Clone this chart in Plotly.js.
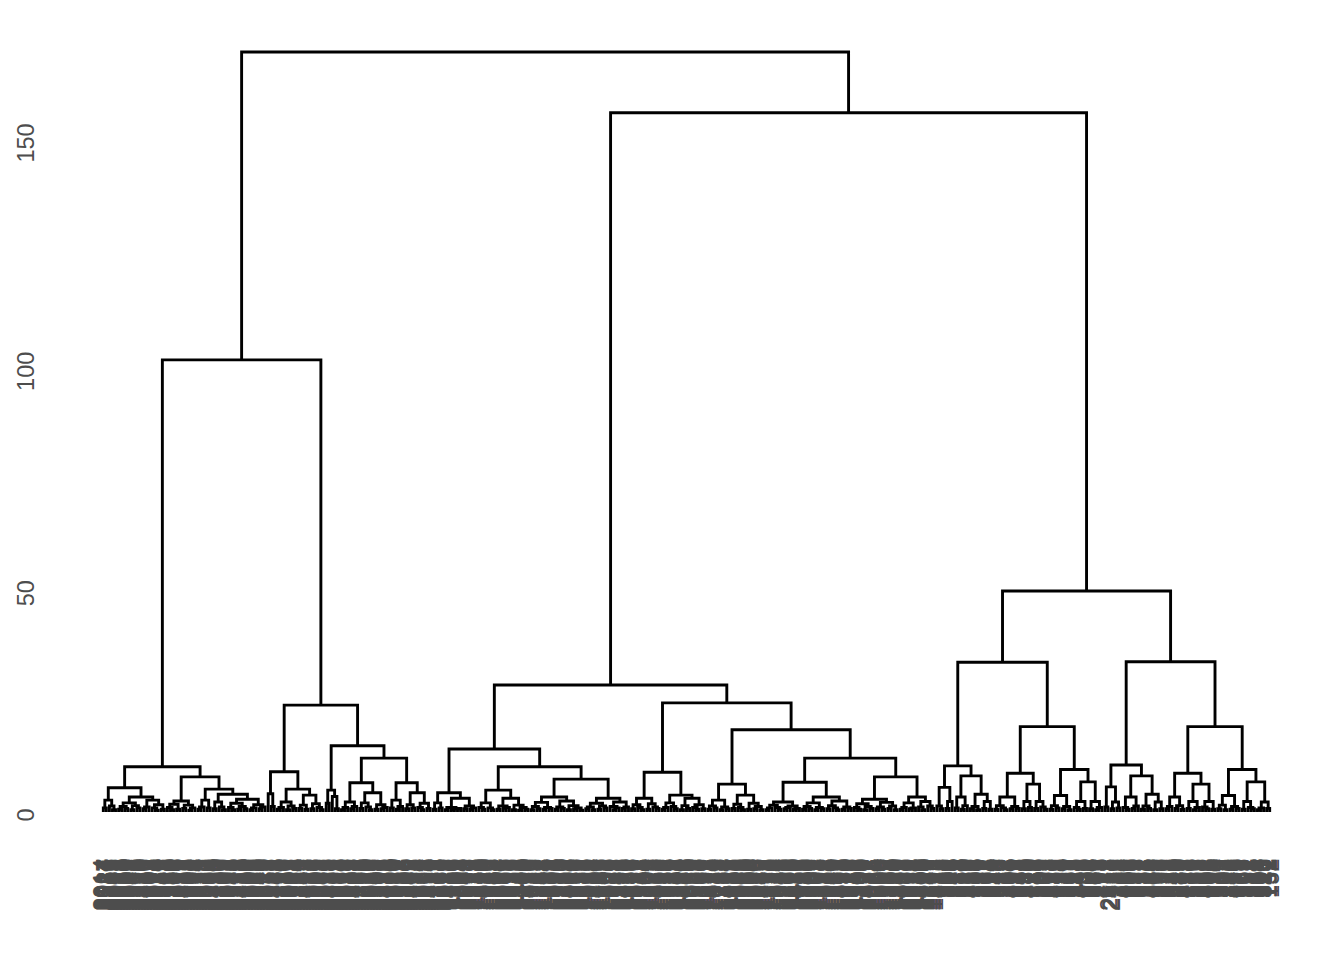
<!DOCTYPE html>
<html>
<head>
<meta charset="utf-8">
<script src="https://cdn.plot.ly/plotly-3.0.1.min.js"></script>
<style>html,body{margin:0;padding:0;background:#fff}#chart{width:1344px;height:960px}</style>
</head>
<body>
<div id="chart"></div>
<script>
// ---- DATA: dendrogram structure (Newick-like, "o" = leaf, number after ")" = merge height) ----
const treeLL = `(
 ( ((o,o)0.9,(o,(o,o)0.5)1.3)2.6,
   ( (((o,o)0.6,(o,o)0.8)1.2,((o,o)0.5,(o,o)0.9)1.4)2.0,
     (((o,o)0.7,o)1.1,((o,(o,o)0.4)0.9,(o,o)0.6)1.6)2.6 )3.3 )5.3,
 ( ( ((o,(o,o)0.5)1.0,(o,o)0.6)1.7,
     ((o,o)0.8,((o,o)0.4,o)0.9)1.5 )2.4,
   ( (((o,o)0.6,o)1.1,(o,o)0.9)2.6,
     ( ((o,o)0.7,(o,(o,o)0.5)1.1)2.2,
       ( ((o,(o,o)0.5)1.0,((o,o)0.6,(o,o)0.7)1.2)1.9,
         (((o,o)0.5,o)0.9,((o,o)0.7,o)1.1)1.6 )2.8 )3.9 )5.0 )7.7 )9.9`;

const treeLR = `(
 ( (o,(o,o)1.2)4.0,
   ( (((o,o)0.6,o)1.0,((o,o)0.5,(o,o)0.8)1.3)2.2,
     (((o,o)0.8,(o,o)0.6)1.5,((o,o)0.7,(o,(o,o)0.5)1.0)1.8)3.7 )5.0 )8.8,
 ( ((o,o)1.9,(o,(o,o)0.7)3.4)4.8,
   ( ( (((o,o)0.5,o)1.0,((o,o)0.7,o)1.2)2.2,
       (((o,o)0.8,(o,(o,o)0.5)1.1)2.0,((o,o)0.6,((o,o)0.7,o)1.0)1.6)4.2 )6.4,
     ( ((o,o)0.9,((o,o)0.6,o)1.2)2.6,
       (((o,o)0.7,(o,o)0.9)1.6,((o,(o,o)0.5)1.0,(o,o)0.8)1.9)4.2 )6.4 )11.8 )14.5 )23.4`;

const treeRL = `(
 ( ( ((o,o)0.6,(o,o)0.9)2.0,
     (((o,o)0.5,((o,o)0.4,(o,o)0.8)0.7)1.0,((o,o)0.7,((o,o)0.6,o)0.9)1.3)3.0 )4.2,
   ( ( ((o,(o,o)0.6)1.0,(o,(o,o)0.5)0.9)2.0,
       (((o,o)0.6,((o,o)0.8,o)1.0)1.3,((o,o)0.5,((o,o)0.4,(o,o)0.6)1.0)1.5)3.0 )4.8,
     ( ( (((o,o)0.5,(o,o)0.7)1.2,((o,o)0.6,(o,o)0.8)1.0)2.1,
         (((o,o)0.6,(o,o)0.8)1.1,((o,o)0.5,((o,o)0.7,(o,o)0.4)0.9)1.4)2.4 )3.3,
       ( (((o,o)0.7,(o,o)0.5)1.1,((o,o)0.6,(o,o)0.9)1.3)1.9,
         ((o,((o,o)0.5,o)0.9)1.2,((o,o)0.8,o)1.1)2.2 )3.0 )7.2 )9.9 )13.8,
 ( ( (((o,o)0.7,(o,(o,o)0.5)1.0)1.6,((o,o)0.6,(o,(o,o)0.8)1.1)1.8)3.0,
     ( (((o,o)0.6,o)1.0,(o,(o,o)0.7)1.2)2.0,
       (((o,o)0.5,(o,o)0.8)1.4,((o,(o,o)0.6)1.0,(o,o)0.7)1.6)3.0 )3.7 )8.7,
   ( ( (((o,o)0.6,(o,o)0.9)1.3,((o,o)0.5,(o,o)0.7)1.1)2.6,
       (((o,o)0.8,(o,(o,o)0.5)1.0)1.7,((o,o)0.6,((o,o)0.7,(o,o)0.5)1.2)1.9)3.7 )6.1,
     ( ( ((((o,o)0.5,o)0.9,(o,(o,o)0.6)1.0)1.5,(((o,o)0.7,o)1.0,((o,o)0.6,o)0.8)1.3)2.2,
         ( (((o,o)0.6,(o,o)0.8)1.2,((o,o)0.5,(o,o)0.7)1.0)2.0,
           (((o,o)0.7,(o,(o,o)0.5)0.9)1.4,((o,o)0.6,(o,o)0.8)1.1)2.4 )3.3 )6.5,
       ( ( ((o,(o,o)0.6)1.0,((o,o)0.5,(o,o)0.8)1.2)1.8,
           (((o,o)0.7,(o,o)0.6)1.1,((o,o)0.8,(o,o)0.5)1.3)2.1 )2.8,
         ( (((o,o)0.6,o)1.0,((o,o)0.7,o)0.9)2.0,
           ((o,(o,o)0.5)1.1,(o,(o,o)0.8)1.3)2.3 )3.3 )7.7 )11.8 )18.0 )23.9 )27.8`;

const treeRR = `(
 ( ( ((o,(o,o)0.7)1.3,((o,o)0.8,o)2.3)5.4,
     ( ((o,o)0.9,((o,o)0.6,o)1.4)3.3,
       (((o,o)0.7,(o,o)0.5)1.2,((o,o)0.8,(o,o)0.6)2.3)3.9 )7.9 )10.1,
   ( ( (((o,o)0.6,(o,(o,o)0.5)0.9)1.4,((o,o)0.7,(o,o)0.8)1.2)3.3,
       ( ((o,o)0.7,(o,o)1.0)2.3,
         ((o,o)0.8,(o,(o,o)0.6)1.1)2.3 )6.1 )8.5,
     ( (((o,o)0.6,(o,o)0.9)1.4,((o,o)0.7,(o,o)0.5)1.2)3.6,
       ( ((o,(o,o)0.6)1.0,(o,o)0.8)2.3,
         ((o,o)0.7,((o,o)0.5,o)1.0)2.3 )6.6 )9.3 )18.7 )32.8,
 ( ( ((o,o)1.1,((o,o)0.7,(o,o)0.9)2.2)5.5,
     ( ((o,(o,o)0.6)1.0,((o,o)0.8,o)1.3)3.3,
       (((o,o)0.6,(o,o)0.8)1.3,((o,o)0.5,(o,o)0.7)2.2)3.9 )7.9 )10.3,
   ( ( (((o,o)0.7,o)1.2,((o,o)0.8,(o,o)0.6)1.4)3.3,
       ( ((o,o)0.8,((o,o)0.5,o)1.0)2.3,
         ((o,(o,o)0.7)1.1,(o,o)0.6)2.3 )6.1 )8.5,
     ( (((o,o)0.7,(o,o)0.5)1.5,((o,o)0.6,(o,o)0.8)1.2)3.6,
       ( ((o,o)0.6,(o,(o,o)0.7)1.0)2.3,
         (((o,o)0.5,o)0.9,(o,o)0.8)2.2 )6.6 )9.3 )18.7 )32.9 )48.4`;

// top-level merge heights: left main branch, right main branch, root
const topMergeHeights = [99.0, 153.1, 166.4];

// leaf labels (x tick labels), in leaf order left to right
const leafLabelsLeft = [
 2014,2387,2156,2743,2091,2512,2668,2230,2905,2047,
 2331,2779,2120,2456,2861,2203,2598,2074,2689,2345,
 2912,2167,2540,2283,2726,2019,2471,2835,2108,2652,
 2394,2957,2238,2583,2066,2714,2429,2190,2876,2305,
 2561,2032,2648,2979,2271,2415,2130,2793,2506,2087,
 2362,2940,2213,2619,2058,2751,2448,2174,2893,2326,
 2537,2005,2682,2264,2819,2141,2493,2925,2377,2096,
 2605,2248,2767,2023,2439,2851,2159,2574,2316,2998,
 2082,2633,2401,2187,2736,2293,2520,2968,2045,2355,
 2701,2126,2482,2884,2219,2590,2061,2657,2338,2806,
 2149,2463,2935,2274,2551,2012,2694,2419,2181,2828,
 2368,2625];
const leafLabelsMiddle = [
 1023,1487,1156,1732,1309,1864,1045,1598,1271,1913,
 1138,1652,1420,1089,1776,1343,1957,1204,1531,1067,
 1819,1396,1625,1112,1748,1283,1970,1457,1036,1583,
 1227,1841,1164,1695,1372,1908,1051,1519,1260,1787,
 1434,1096,1668,1315,1952,1187,1573,1029,1724,1401,
 1886,1145,1607,1358,1079,1763,1242,1936,1478,1121,
 1639,1296,1857,1012,1548,1384,1701,1175,1925,1463,
 1058,1812,1337,1596,1219,1742,1104,1889,1446,1275,
 1660,1031,1528,1798,1367,1151,1973,1414,1086,1715,
 1252,1834,1492,1127,1681,1302,1946,1063,1567,1230,
 1804,1389,1015,1649,1472,1198,1758,1326,1914,1041,
 1535,1288,1869,1117,1620,1451,1076,1793,1348,1209,
 1961,1502,1168,1727,1381,1054,1846,1239,1589,1425,
 1093,1670,1318,1985,1141,1556,1208,1779,1437,1072,
 1634,1264,1898,1009,1512,1353,1707,1180,1942,1469,
 1038,1825,1291,1614,1133,1746,1405,1990,1247,1561,
 1527];
const leafLabelsRight = [
 412,735,268,951,503,146,829,374,617,
 290,968,451,183,706,539,822,361,94,675,
 248,913,587,132,764,406,859,323,641,195,
 982,470,217,748,556,309,891,163,628,437,
 775,254,936,519,381,697,118,842,465,233,
 579,904,346,681,795,427,172,613,2417,956,
 283,734,498,861,205,562,389,927,651,138,
 716,444,873,297,598,159,815,372,946,520,
 243,689,413,787,126,569,935,338,662,481,
 806,224,594,917,357,703,178,843,436,275,
 629,965,391,752,514,261,884,608,323,741,
 152];

const yTickValues = [0, 50, 100, 150];
const yTickLabels = ['0', '50', '100', '150'];

// ---- build tree ----
const newick = '((' + treeLL + ',' + treeLR + ')' + topMergeHeights[0] + ',(' +
               treeRL + ',' + treeRR + ')' + topMergeHeights[1] + ')' + topMergeHeights[2];

function parseTree(str) {
  const s = str.replace(/\s+/g, '');
  let i = 0;
  function node() {
    if (s[i] === '(') {
      i++;
      const kids = [node()];
      while (s[i] === ',') { i++; kids.push(node()); }
      i++; // ')'
      const j = i;
      while (i < s.length && /[0-9.]/.test(s[i])) i++;
      return { h: parseFloat(s.slice(j, i)), kids: kids };
    }
    i++; // leaf 'o'
    return { h: 0, leaf: true };
  }
  return node();
}
const root = parseTree(newick);

let leafCount = 0;
function place(n) {
  if (n.leaf) { leafCount++; n.x = leafCount; return; }
  n.kids.forEach(place);
  n.x = (n.kids[0].x + n.kids[n.kids.length - 1].x) / 2;
}
place(root);
const N = leafCount;

const segX = [], segY = [];
function segs(n) {
  if (n.leaf) return;
  const a = n.kids[0], b = n.kids[n.kids.length - 1];
  segX.push(a.x, a.x, b.x, b.x, null);
  segY.push(a.h, n.h, n.h, b.h, null);
  n.kids.forEach(segs);
}
segs(root);

const leafLabels = leafLabelsLeft.concat(leafLabelsMiddle, leafLabelsRight).map(String);
const leafPositions = [];
for (let k = 1; k <= N; k++) leafPositions.push(k);
console.log('leaves', N, 'labels', leafLabels.length);

const H = root.h;
const fam = 'Liberation Sans, Arial, Helvetica, sans-serif';
const yFont = { family: fam, size: 23.5, color: '#4D4D4D' };
const xFont = { family: fam, size: 23.5, color: '#4D4D4D',
  shadow: '0 1.2px 0 #4D4D4D, 0 -1.2px 0 #4D4D4D' };
// pad y labels so that their top end sits at the tick (as in the reference)
const yTickText = yTickLabels.map(t => t + '\u00a0'.repeat(2 * t.length));

const trace = {
  x: segX, y: segY, type: 'scatter', mode: 'lines',
  line: { color: '#000000', width: 2.9, simplify: false },
  connectgaps: false, hoverinfo: 'skip'
};

const layout = {
  width: 1344, height: 960,
  margin: { l: 45, r: 16, t: 14, b: 110, pad: 0 },
  paper_bgcolor: '#ffffff', plot_bgcolor: '#ffffff',
  showlegend: false, hovermode: false,
  xaxis: {
    range: [1 - 0.05 * (N - 1), N + 0.05 * (N - 1)],
    tickmode: 'array', tickvals: leafPositions, ticktext: leafLabels,
    tickangle: -90, tickfont: xFont, ticklabelstandoff: 3,
    showgrid: false, zeroline: false, showline: false, ticks: '',
    automargin: false, fixedrange: true
  },
  yaxis: {
    range: [-0.05 * H, 1.05 * H],
    tickmode: 'array', tickvals: yTickValues, ticktext: yTickText,
    tickangle: -90, tickfont: yFont, ticklabelstandoff: 5,
    showgrid: false, zeroline: false, showline: false, ticks: '',
    automargin: false, fixedrange: true
  }
};

Plotly.newPlot('chart', [trace], layout, { displayModeBar: false, staticPlot: true });
</script>
</body>
</html>
